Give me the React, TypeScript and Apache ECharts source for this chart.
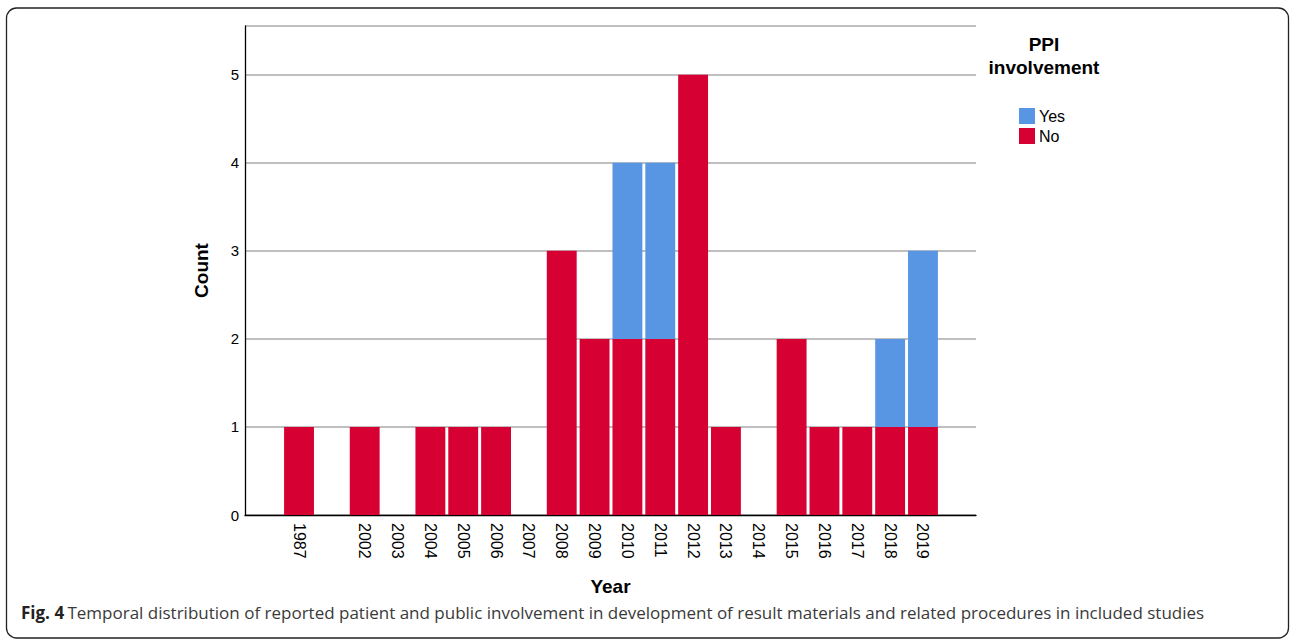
import React, { useEffect, useRef } from "react";
import * as echarts from "echarts";

const years = ["1987", "", "2002", "2003", "2004", "2005", "2006", "2007", "2008", "2009", "2010", "2011", "2012", "2013", "2014", "2015", "2016", "2017", "2018", "2019"];
const noCounts = [1, 0, 1, 0, 1, 1, 1, 0, 3, 2, 2, 2, 5, 1, 0, 2, 1, 1, 1, 1];
const yesCounts = [0, 0, 0, 0, 0, 0, 0, 0, 0, 0, 2, 2, 0, 0, 0, 0, 0, 0, 1, 2];
const yTicks = [0, 1, 2, 3, 4, 5];
const legendNames = ["Yes", "No"];

const RED = "#d70033";
const BLUE = "#5896e3";
const FONT = "Liberation Sans, Arial, sans-serif";

export default function App() {
  const ref = useRef<HTMLDivElement>(null);
  useEffect(() => {
    if (!ref.current) return;
    const chart = echarts.init(ref.current, undefined, { renderer: "svg" });
    const yMax = 5.553;
    const gridTop = 26;
    const gridBottom = 124;
    chart.setOption({
      animation: false,
      backgroundColor: "#ffffff",
      textStyle: { fontFamily: FONT },
      grid: [
        { left: 245, right: 314, top: gridTop, bottom: gridBottom },
        { left: 282.6, right: 1290 - 939.4, top: gridTop, bottom: gridBottom },
      ],
      xAxis: [
        {
          gridIndex: 0,
          type: "value",
          min: 0,
          max: 1,
          axisLine: { show: true, lineStyle: { color: "#000", width: 1.3 } },
          axisTick: { show: false },
          axisLabel: { show: false },
          splitLine: { show: false },
          name: "Year",
          nameLocation: "middle",
          nameGap: 62,
          nameTextStyle: { fontFamily: FONT, fontWeight: "bold", fontSize: 19, color: "#000" },
        },
        {
          gridIndex: 1,
          type: "category",
          data: years,
          axisLine: { show: false },
          axisTick: { show: false },
          axisLabel: {
            rotate: -90,
            margin: 8,
            interval: 0,
            fontFamily: FONT,
            fontSize: 16,
            color: "#000",
          },
        },
      ],
      yAxis: [
        {
          gridIndex: 0,
          type: "value",
          min: 0,
          max: yMax,
          interval: 1,
          axisLine: { show: true, lineStyle: { color: "#000", width: 1.3 } },
          axisTick: { show: false },
          axisLabel: {
            margin: 6,
            fontFamily: FONT,
            fontSize: 15,
            color: "#000",
            formatter: (v: number) => (yTicks.includes(v) ? String(v) : ""),
          },
          splitLine: { show: true, lineStyle: { color: "#aaaaaa", width: 1.6 } },
          name: "Count",
          nameLocation: "middle",
          nameGap: 34,
          nameRotate: 90,
          nameTextStyle: { fontFamily: FONT, fontWeight: "bold", fontSize: 19, color: "#000" },
        },
        {
          gridIndex: 1,
          type: "value",
          min: 0,
          max: yMax,
          interval: 1,
          show: false,
          splitLine: { show: false },
        },
      ],
      legend: {
        data: legendNames,
        orient: "vertical",
        left: 1019,
        top: 108,
        icon: "rect",
        itemWidth: 16,
        itemHeight: 16,
        itemGap: 4,
        padding: 0,
        textStyle: { fontFamily: FONT, fontSize: 16, color: "#000", padding: [0, 0, 0, -1] },
      },
      series: [
        {
          name: "No",
          type: "bar",
          stack: "ppi",
          xAxisIndex: 1,
          yAxisIndex: 1,
          data: noCounts.map((v) => (v === 0 ? null : v)),
          barCategoryGap: "9%",
          itemStyle: { color: RED },
        },
        {
          name: "Yes",
          type: "bar",
          stack: "ppi",
          xAxisIndex: 1,
          yAxisIndex: 1,
          data: yesCounts.map((v) => (v === 0 ? null : v)),
          barCategoryGap: "9%",
          itemStyle: { color: BLUE },
        },
      ],
      graphic: [
        {
          type: "rect",
          shape: { x: 6.5, y: 8, width: 1282, height: 630, r: 10 },
          style: { fill: "none", stroke: "#222", lineWidth: 1.3 },
          silent: true,
        },
        {
          type: "text",
          x: 1044,
          y: 33,
          style: {
            text: "PPI\ninvolvement",
            fontFamily: FONT,
            fontWeight: "bold",
            fontSize: 19,
            lineHeight: 23,
            fill: "#000",
            align: "center",
            verticalAlign: "top",
          },
        },
        {
          type: "text",
          x: 21,
          y: 612,
          style: {
            text: "{b|Fig. 4} {n|Temporal distribution of reported patient and public involvement in development of result materials and related procedures in included studies}",
            verticalAlign: "middle",
            rich: {
              b: { fontFamily: "Open Sans", fontWeight: "bold", fontSize: 17, fill: "#222" },
              n: { fontFamily: "Open Sans", fontSize: 17, fill: "#3a3a3a" },
            },
          },
        },
      ],
    });
    return () => chart.dispose();
  }, []);
  return <div ref={ref} style={{ position: "absolute", left: 0, top: 0, width: 1290, height: 639 }} />;
}
